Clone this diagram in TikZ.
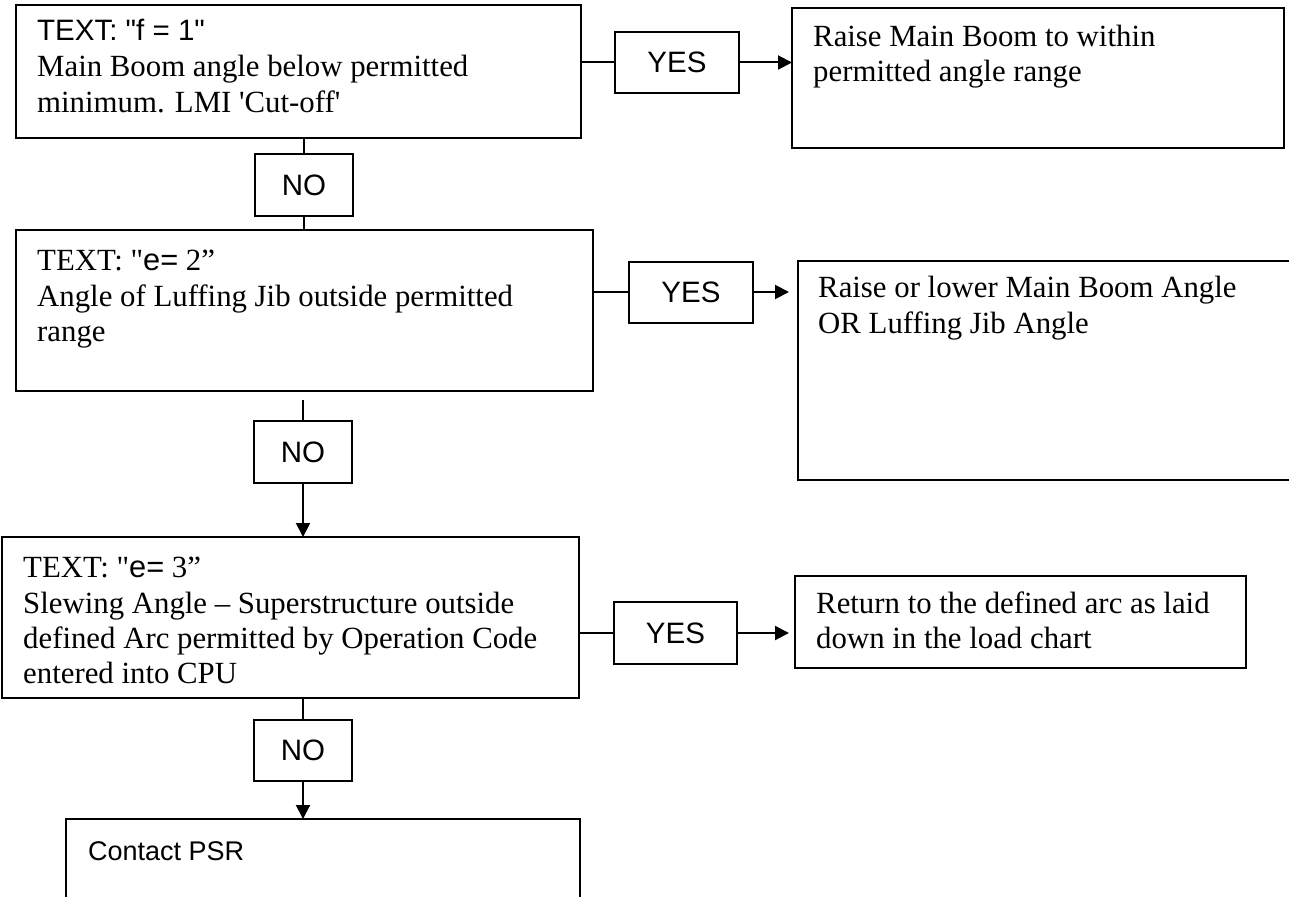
\documentclass[tikz,border=0pt]{standalone}
\usepackage{fontspec}
\newfontfamily\tms{Liberation Serif}
\newfontfamily\arl{Liberation Sans}
\usetikzlibrary{arrows.meta}
\begin{document}
\begin{tikzpicture}[x=1pt,y=-1pt,
  box/.style={draw, line width=2pt, inner sep=0pt, outer sep=0pt, anchor=north west},
  lbl/.style={draw, line width=2pt, inner sep=0pt, outer sep=0pt, font=\arl\fontsize{29.5}{34}\selectfont},
  tm/.style={inner sep=0pt, anchor=base west, font=\tms\fontsize{30.8}{36}\selectfont},
  ar/.style={inner sep=0pt, anchor=base west, font=\arl\fontsize{29.5}{34}\selectfont},
  con/.style={line width=2pt},
  arr/.style={line width=2pt, -{Triangle[length=14pt,width=14pt]}}]
\clip (0,0) rectangle (1289,896);
\fill[white] (0,0) rectangle (1289,896);
% main boxes
\node[box, minimum width=565pt, minimum height=133pt] (b1) at (16,5) {};
\node[box, minimum width=577pt, minimum height=161pt] (b2) at (16,230) {};
\node[box, minimum width=577pt, minimum height=161pt] (b3) at (2,537) {};
\node[box, minimum width=514pt, minimum height=120pt] (b4) at (66,819) {};
% result boxes
\node[box, minimum width=492pt, minimum height=140pt] (r1) at (792,8) {};
\node[box, minimum width=520pt, minimum height=219pt] (r2) at (798,261) {};
\node[box, minimum width=451pt, minimum height=92pt] (r3) at (795,576) {};
% yes / no labels
\node[lbl, minimum width=124pt, minimum height=61pt] (y1) at (677,62.5) {YES};
\node[lbl, minimum width=124pt, minimum height=61pt] (y2) at (691,292) {YES};
\node[lbl, minimum width=123pt, minimum height=62pt] (y3) at (675.5,633) {YES};
\node[lbl, minimum width=98pt, minimum height=62pt] (n1) at (304,185) {NO};
\node[lbl, minimum width=98pt, minimum height=62pt] (n2) at (303,452) {NO};
\node[lbl, minimum width=98pt, minimum height=61pt] (n3) at (303,750.5) {NO};
% texts
\node[ar] (t1a) at (37,41) {TEXT: "f = 1"};
\node[tm] (t1b) at (37,77) {Main Boom angle below permitted};
\node[tm] (t1c) at (37,113) {minimum. LMI 'Cut-off'};
\node[tm] (t2a) at (37,270) {TEXT: "{\arl e=} 2”};
\node[tm] (t2b) at (37,306) {Angle of Luffing Jib outside permitted};
\node[tm] (t2c) at (37,341) {range};
\node[tm] (t3a) at (23,577) {TEXT: "{\arl e=} 3”};
\node[tm] (t3b) at (23,613) {Slewing Angle – Superstructure outside};
\node[tm] (t3c) at (23,648) {defined Arc permitted by Operation Code};
\node[tm] (t3d) at (23,683) {entered into CPU};
\node[ar, font=\arl\fontsize{27}{32}\selectfont] (t4a) at (88,860) {Contact PSR};
\node[tm] (s1a) at (813,47) {Raise Main Boom to within};
\node[tm] (s1b) at (813,82) {permitted angle range};
\node[tm] (s2a) at (818,297) {Raise or lower Main Boom Angle};
\node[tm] (s2b) at (818,333) {OR Luffing Jib Angle};
\node[tm] (s3a) at (816,613) {Return to the defined arc as laid};
\node[tm] (s3b) at (816,648) {down in the load chart};
% connectors
\draw[con] (b1.east |- y1.west) -- (y1.west);
\draw[arr] (y1.east) -- (y1.east -| r1.west);
\draw[con] (b1.south -| n1.north) -- (n1.north);
\draw[con] (n1.south) -- (n1.south |- b2.north);
\draw[con] (b2.east |- y2.west) -- (y2.west);
\draw[arr, shorten >=9pt] (y2.east) -- (y2.east -| r2.west);
\draw[con, shorten <=9pt] (b2.south -| n2.north) -- (n2.north);
\draw[arr] (n2.south) -- (n2.south |- b3.north);
\draw[con] (b3.east |- y3.west) -- (y3.west);
\draw[arr, shorten >=6pt] (y3.east) -- (y3.east -| r3.west);
\draw[con] (b3.south -| n3.north) -- (n3.north);
\draw[arr] (n3.south) -- (n3.south |- b4.north);
\end{tikzpicture}
\end{document}
